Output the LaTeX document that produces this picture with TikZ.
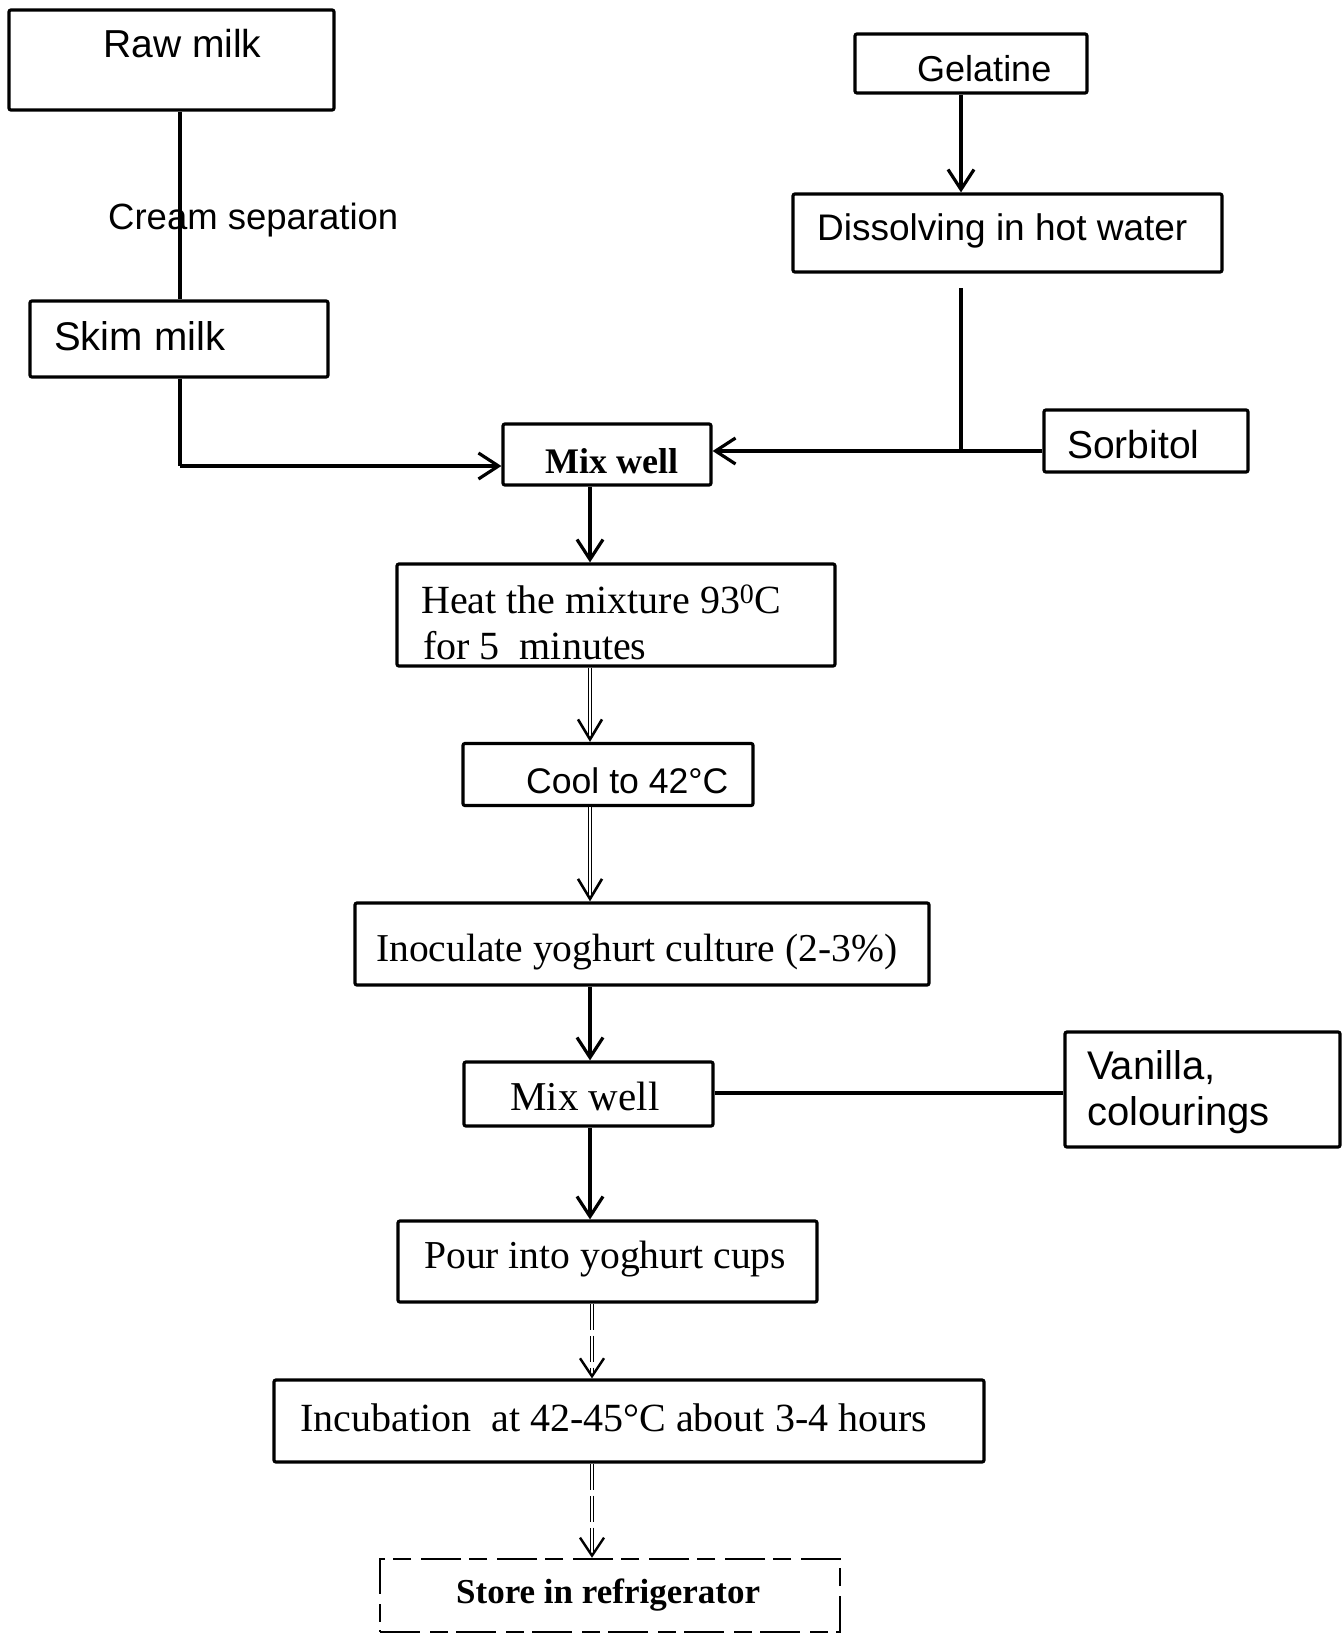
\documentclass[tikz,border=0pt]{standalone}
\usepackage{fontspec}
\setmainfont{Liberation Serif}
\newfontfamily\sansf{Liberation Sans}
\usetikzlibrary{arrows.meta}
\newcommand{\myfs}[1]{\fontsize{#1}{#1}\selectfont}
\tikzset{
  box/.style={draw, line width=3.2pt, rounded corners=2pt, inner sep=0pt},
  dbox/.style={draw, line width=2.4pt, inner sep=0pt, dash pattern=on 40pt off 10pt on 18pt off 8pt},
  txt/.style={anchor=base west, inner sep=0pt},
  conn/.style={line width=3.2pt},
  arr/.style={line width=3.2pt, -{Straight Barb[length=20pt,width=26pt]}},
  darr/.style={line width=1.3pt, double, double distance=1.4pt, -{Straight Barb[length=20pt,width=24pt,line width=2.6pt]}},
  ddarr/.style={line width=1.2pt, double, double distance=1.4pt, dash pattern=on 26pt off 6pt, -{Straight Barb[length=18pt,width=24pt,line width=2.4pt]}}
}
\begin{document}
\begin{tikzpicture}[x=1pt,y=-1pt]
\useasboundingbox (0,0) rectangle (1342,1637);
\fill[white] (0,0) rectangle (1342,1637);

% boxes
\node[box, minimum width=325pt, minimum height=100pt] (raw) at (171.5,60) {};
\node[box, minimum width=298pt, minimum height=76pt] (skim) at (179,339) {};
\node[box, minimum width=232pt, minimum height=59pt] (gel) at (971,63.5) {};
\node[box, minimum width=429pt, minimum height=78pt] (diss) at (1007.5,233) {};
\node[box, minimum width=204pt, minimum height=62pt] (sorb) at (1146,441) {};
\node[box, minimum width=208pt, minimum height=61pt] (mixa) at (607,454.5) {};
\node[box, minimum width=438pt, minimum height=102pt] (heat) at (616,615) {};
\node[box, minimum width=290pt, minimum height=62pt] (cool) at (608,774.5) {};
\node[box, minimum width=574pt, minimum height=82pt] (inoc) at (642,944) {};
\node[box, minimum width=249pt, minimum height=64pt] (mixb) at (588.5,1094) {};
\node[box, minimum width=275pt, minimum height=115pt] (van) at (1202.5,1089.5) {};
\node[box, minimum width=419pt, minimum height=81pt] (pour) at (607.5,1261.5) {};
\node[box, minimum width=710pt, minimum height=82pt] (incub) at (629,1421) {};
\node[dbox, minimum width=460pt, minimum height=73pt] (store) at (610,1595.5) {};

% texts
\node[txt] (traw) at (103,58) {\sansf\myfs{39}Raw milk};
\node[txt] (tcream) at (108,230) {\sansf\myfs{36.5}Cream separation};
\node[txt] (tskim) at (54,350) {\sansf\myfs{40}Skim milk};
\node[txt] (tgel) at (917,82) {\sansf\myfs{36}Gelatine};
\node[txt] (tdiss) at (817,241) {\sansf\myfs{37}Dissolving in hot water};
\node[txt] (tsorb) at (1067,458) {\sansf\myfs{39}Sorbitol};
\node[txt] (tmixa) at (545,473) {\bfseries\myfs{36}Mix well};
\node[txt] (theata) at (421,613) {\myfs{40}Heat the mixture 93\textsuperscript{0}C};
\node[txt] (theatb) at (423,659) {\myfs{40}for 5\ \ minutes};
\node[txt] (tcool) at (526,793) {\sansf\myfs{35.6}Cool to 42°C};
\node[txt] (tinoc) at (376,961) {\myfs{39.5}Inoculate yoghurt culture (2-3\%)};
\node[txt] (tmixb) at (510,1110) {\myfs{41}Mix well};
\node[txt] (tvana) at (1087,1079) {\sansf\myfs{40}Vanilla,};
\node[txt] (tvanb) at (1087,1125) {\sansf\myfs{40}colourings};
\node[txt] (tpour) at (424,1268) {\myfs{39.6}Pour into yoghurt cups};
\node[txt] (tincub) at (300,1431) {\myfs{40}Incubation\ \ at 42-45°C about 3-4 hours};
\node[txt] (tstore) at (456,1603) {\bfseries\myfs{35}Store in refrigerator};

% junction coordinates
\coordinate (skimturn) at (180,466);
\coordinate (dstart) at (961,288);
\coordinate (junc) at (961,451);

% connectors
\draw[conn] (raw.south -| 180,0) -- (skim.north -| 180,0);
\draw[conn] (skim.south -| 180,0) -- (skimturn);
\draw[arr] (skimturn) -- (mixa.west |- skimturn);
\draw[arr] (gel.south -| 961,0) -- (diss.north -| 961,0);
\draw[conn] (dstart) -- (junc);
\draw[conn] (sorb.west |- junc) -- (junc);
\draw[arr] (junc) -- (mixa.east |- junc);
\draw[arr] (mixa.south -| 590,0) -- (heat.north -| 590,0);
\draw[darr] (heat.south -| 590,0) -- (cool.north -| 590,0);
\draw[darr] (cool.south -| 590,0) -- (inoc.north -| 590,0);
\draw[arr] (inoc.south -| 590,0) -- (mixb.north -| 590,0);
\draw[conn] (mixb.east |- 0,1093) -- (van.west |- 0,1093);
\draw[arr] (mixb.south -| 590,0) -- (pour.north -| 590,0);
\draw[ddarr] (pour.south -| 592,0) -- (incub.north -| 592,0);
\draw[ddarr] (incub.south -| 592,0) -- (store.north -| 592,0);
\end{tikzpicture}
\end{document}
